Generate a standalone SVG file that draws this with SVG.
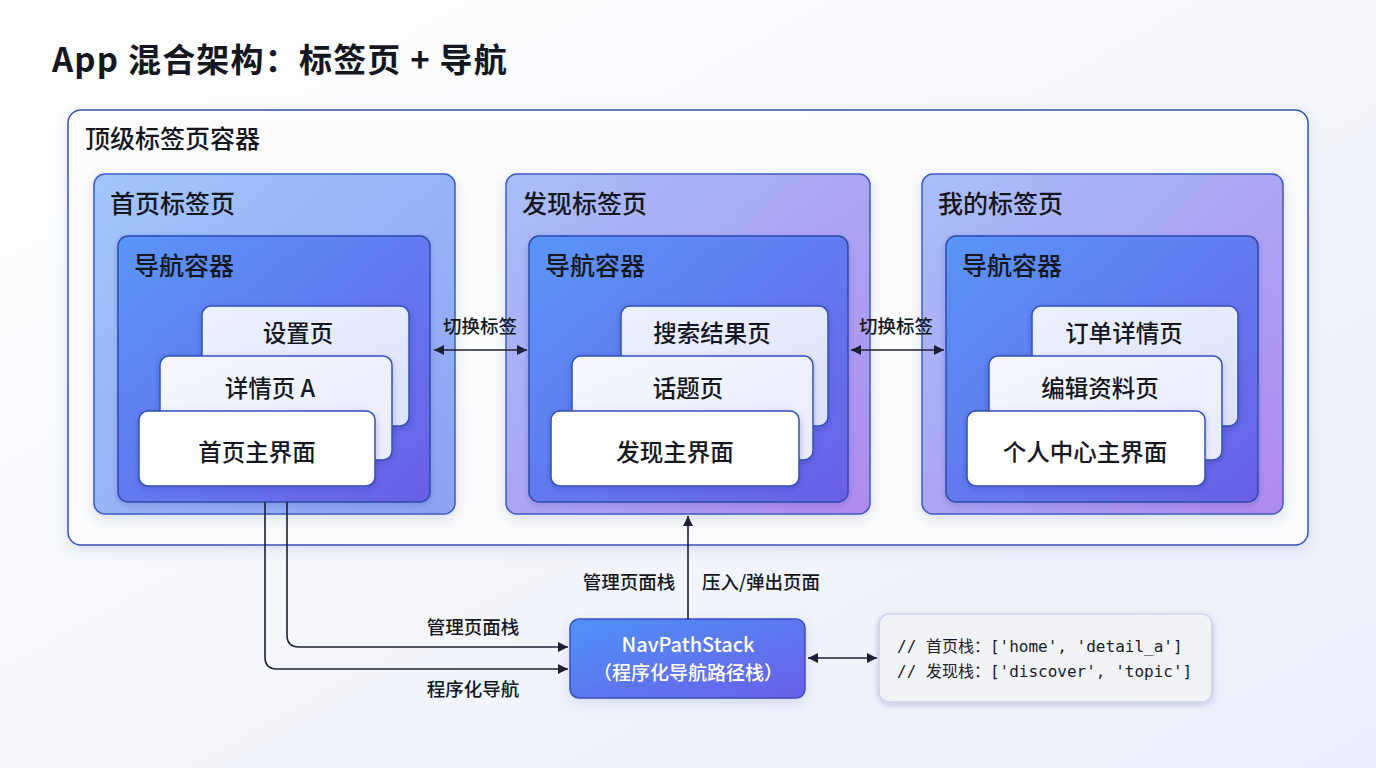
<svg xmlns="http://www.w3.org/2000/svg" width="1376" height="768" viewBox="0 0 1376 768">
<defs>
<linearGradient id="bg" x1="0" y1="0" x2="1" y2="1"><stop offset="0" stop-color="#ffffff"/><stop offset="1" stop-color="#eceffa"/></linearGradient>
<linearGradient id="tabBlue" x1="0" y1="0" x2="1" y2="1"><stop offset="0" stop-color="#a3c6fb"/><stop offset="1" stop-color="#8da3f3"/></linearGradient>
<linearGradient id="tabPurple" x1="0" y1="0" x2="1" y2="1"><stop offset="0" stop-color="#a9c0f9"/><stop offset="1" stop-color="#b08bef"/></linearGradient>
<linearGradient id="nav" x1="0" y1="0" x2="1" y2="1"><stop offset="0" stop-color="#5995f6"/><stop offset="1" stop-color="#6b5fe7"/></linearGradient>
<linearGradient id="stackG" x1="0" y1="0" x2="1" y2="1"><stop offset="0" stop-color="#4f92f6"/><stop offset="1" stop-color="#6a5fe8"/></linearGradient>
<linearGradient id="cardBack" x1="0" y1="0" x2="1" y2="1"><stop offset="0" stop-color="#edf1fd"/><stop offset="1" stop-color="#dde3fa"/></linearGradient>
<linearGradient id="cardMid" x1="0" y1="0" x2="1" y2="1"><stop offset="0" stop-color="#f7f8fe"/><stop offset="1" stop-color="#e7ebfb"/></linearGradient>
<filter id="sh" x="-10%" y="-10%" width="120%" height="130%"><feDropShadow dx="0" dy="4" stdDeviation="6" flood-color="#3b4fa0" flood-opacity="0.18"/></filter>
<filter id="shs" x="-10%" y="-10%" width="120%" height="130%"><feDropShadow dx="0" dy="2" stdDeviation="3" flood-color="#1e2a70" flood-opacity="0.22"/></filter>
<marker id="ah" viewBox="0 0 10 10" refX="10" refY="5" markerWidth="10" markerHeight="10" markerUnits="userSpaceOnUse" orient="auto-start-reverse"><path d="M0,0 L10,5 L0,10 z" fill="#1c2033"/></marker>
<style>
text{font-family:"Noto Sans CJK SC","Noto Sans",sans-serif;fill:#15171f}
.title{font-size:33px;font-weight:700;letter-spacing:1.2px}
.lbl{font-size:25px;font-weight:500}
.card{font-size:23.5px;font-weight:500}
.small{font-size:18.5px;font-weight:500}
.tab{stroke:#3a5cc2;stroke-width:1.5}
.navc{stroke:#2d4bb0;stroke-width:1.5;fill:url(#nav)}
.cb{fill:url(#cardBack);stroke:#3150b8;stroke-width:1.5}
.cm{fill:url(#cardMid);stroke:#3150b8;stroke-width:1.5}
.cf{fill:#ffffff;stroke:#3150b8;stroke-width:1.5}
.conn{fill:none;stroke:#1c2033;stroke-width:1.6}
.code{font-family:"DejaVu Sans Mono","Liberation Mono","Noto Sans CJK SC",monospace;font-size:16px;fill:#1a1c24}
</style>
</defs>
<rect width="1376" height="768" fill="url(#bg)"/>
<text class="title" x="52" y="72">App 混合架构：标签页 + 导航</text>

<g id="outer">
<rect x="68" y="110" width="1240" height="435" rx="13" fill="#ffffff" fill-opacity="0.85" stroke="#3356b0" stroke-width="1.5" filter="url(#sh)"/>
<text class="lbl" x="85" y="148">顶级标签页容器</text>
</g>

<g id="tab-home">
<rect class="tab" x="94" y="174" width="361" height="340" rx="11" fill="url(#tabBlue)" filter="url(#sh)"/>
<text class="lbl" x="110" y="213">首页标签页</text>
<rect class="navc" x="118" y="236" width="312" height="266" rx="10" filter="url(#shs)"/>
<text class="lbl" x="134" y="275">导航容器</text>
<rect class="cb" x="202" y="306" width="207" height="120" rx="9" filter="url(#shs)"/>
<text class="card" x="298" y="342" text-anchor="middle">设置页</text>
<rect class="cm" x="160" y="356" width="232" height="104" rx="9" filter="url(#shs)"/>
<text class="card" x="270" y="397" text-anchor="middle">详情页 A</text>
<rect class="cf" x="139" y="411" width="236" height="75" rx="9" filter="url(#shs)"/>
<text class="card" x="257" y="461" text-anchor="middle">首页主界面</text>
</g>

<g id="tab-discover">
<rect class="tab" x="506" y="174" width="364" height="340" rx="11" fill="url(#tabPurple)" filter="url(#sh)"/>
<text class="lbl" x="522" y="213">发现标签页</text>
<rect class="navc" x="529" y="236" width="319" height="266" rx="10" filter="url(#shs)"/>
<text class="lbl" x="545" y="275">导航容器</text>
<rect class="cb" x="621" y="306" width="207" height="120" rx="9" filter="url(#shs)"/>
<text class="card" x="712" y="342" text-anchor="middle">搜索结果页</text>
<rect class="cm" x="572" y="356" width="241" height="104" rx="9" filter="url(#shs)"/>
<text class="card" x="688" y="397" text-anchor="middle">话题页</text>
<rect class="cf" x="551" y="411" width="248" height="75" rx="9" filter="url(#shs)"/>
<text class="card" x="675" y="461" text-anchor="middle">发现主界面</text>
</g>

<g id="tab-mine">
<rect class="tab" x="922" y="174" width="361" height="340" rx="11" fill="url(#tabPurple)" filter="url(#sh)"/>
<text class="lbl" x="938" y="213">我的标签页</text>
<rect class="navc" x="946" y="236" width="312" height="266" rx="10" filter="url(#shs)"/>
<text class="lbl" x="962" y="275">导航容器</text>
<rect class="cb" x="1032" y="306" width="206" height="120" rx="9" filter="url(#shs)"/>
<text class="card" x="1124" y="342" text-anchor="middle">订单详情页</text>
<rect class="cm" x="989" y="356" width="233" height="104" rx="9" filter="url(#shs)"/>
<text class="card" x="1100" y="397" text-anchor="middle">编辑资料页</text>
<rect class="cf" x="967" y="411" width="238" height="75" rx="9" filter="url(#shs)"/>
<text class="card" x="1085" y="461" text-anchor="middle">个人中心主界面</text>
</g>

<g id="navpathstack">
<rect x="570" y="619" width="235" height="79" rx="9" fill="url(#stackG)" stroke="#3a4fc0" stroke-width="1.5" filter="url(#sh)"/>
<text x="688" y="652" text-anchor="middle" font-size="20" font-weight="500" style="fill:#ffffff">NavPathStack</text>
<text x="688" y="680" text-anchor="middle" font-size="19" font-weight="500" style="fill:#ffffff">（程序化导航路径栈）</text>
</g>

<g id="code-note">
<rect x="879" y="614" width="333" height="88" rx="10" fill="#f2f3f7" stroke="#cbd2ee" stroke-width="1.5" filter="url(#shs)"/>
<text class="code" x="897" y="652">// 首页栈：['home', 'detail_a']</text>
<text class="code" x="897" y="677">// 发现栈：['discover', 'topic']</text>
</g>

<g id="connectors">
<line class="conn" x1="434" y1="350" x2="527" y2="350" marker-start="url(#ah)" marker-end="url(#ah)"/>
<text class="small" x="480" y="333" text-anchor="middle">切换标签</text>
<line class="conn" x1="851" y1="350" x2="944" y2="350" marker-start="url(#ah)" marker-end="url(#ah)"/>
<text class="small" x="896" y="333" text-anchor="middle">切换标签</text>
<path class="conn" d="M287,502 V635 Q287,647 299,647 H568" marker-end="url(#ah)"/>
<path class="conn" d="M265,502 V657 Q265,669 277,669 H568" marker-end="url(#ah)"/>
<text class="small" x="473" y="634" text-anchor="middle">管理页面栈</text>
<text class="small" x="473" y="696" text-anchor="middle">程序化导航</text>
<line class="conn" x1="688" y1="619" x2="688" y2="516" marker-end="url(#ah)"/>
<text class="small" x="629" y="589" text-anchor="middle">管理页面栈</text>
<text class="small" x="761" y="589" text-anchor="middle">压入/弹出页面</text>
<line class="conn" x1="808" y1="658" x2="877" y2="658" marker-start="url(#ah)" marker-end="url(#ah)"/>
</g>
</svg>
